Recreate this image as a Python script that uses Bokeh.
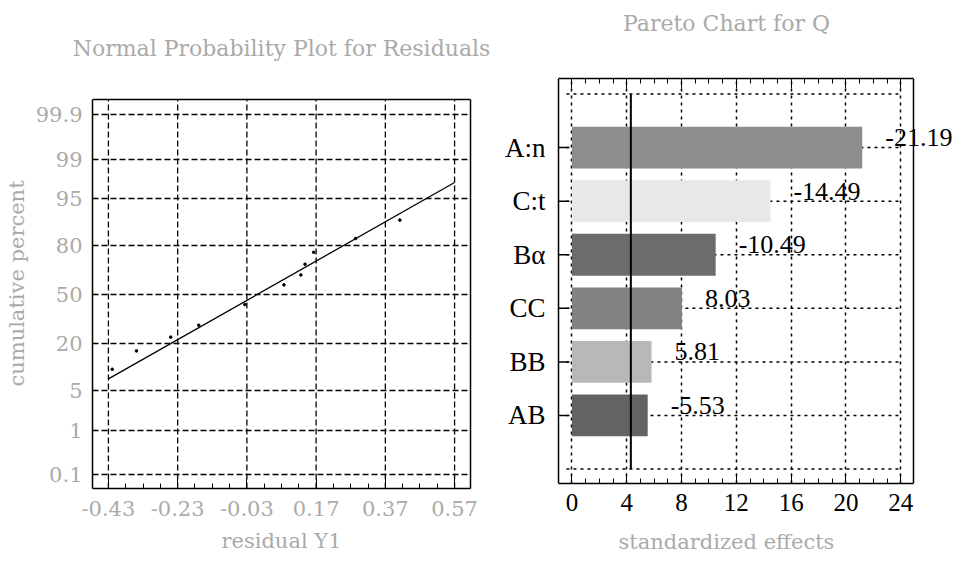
from statistics import NormalDist
from bokeh.plotting import figure
from bokeh.models import FixedTicker, LinearAxis, Range1d, ColumnDataSource, LabelSet, Span
from bokeh.layouts import row
from bokeh.embed import file_html
from bokeh.resources import INLINE

# ---------------- data: normal probability plot ----------------
resid_x = [-0.419, -0.349, -0.250, -0.169, -0.036, 0.077, 0.126, 0.138, 0.163, 0.284, 0.412]
resid_pct = [10.0, 16.7, 23.3, 30.0, 43.3, 56.7, 63.3, 70.0, 76.7, 83.3, 90.0]
fit_x = [-0.43, 0.57]
fit_pct = [7.4, 97.3]
x_ticks = [-0.43, -0.23, -0.03, 0.17, 0.37, 0.57]
pct_ticks = [0.1, 1, 5, 20, 50, 80, 95, 99, 99.9]
pct_labels = ["0.1", "1", "5", "20", "50", "80", "95", "99", "99.9"]

# ---------------- data: pareto chart ----------------
effects = ["A:n", "C:t", "Bα", "CC", "BB", "AB"]
effect_values = [-21.19, -14.49, -10.49, 8.03, 5.81, -5.53]
effect_labels = ["-21.19", "-14.49", "-10.49", "8.03", "5.81", "-5.53"]
bar_colors = ["#8e8e8e", "#e6e8ea", "#6c6c6c", "#828282", "#b6b8ba", "#636363"]
crit_value = 4.3
effect_ticks = [0, 4, 8, 12, 16, 20, 24]

GRAY = "#aaaaaa"
SERIF = "DejaVu Serif"
TIMES = "Liberation Serif"
TOP = 78          # shared top border of both figures
BOTTOM = 84       # shared bottom border of both figures

nd = NormalDist()
def z(p):
    return nd.inv_cdf(p / 100.0)

# ================= left figure =================
z_lo, z_hi = -3.33, 3.354           # framed box of the probability plot
px_per_z = 58.2
box1_h = 389
extra_top = 21                      # frame starts above the box (shared top border)
z_top = z_hi + extra_top / px_per_z

p1 = figure(width=494, height=TOP + box1_h + extra_top + BOTTOM, output_backend="svg", toolbar_location=None,
            x_range=Range1d(-0.476, 0.616), y_range=Range1d(z_lo, z_top),
            min_border_left=92, min_border_right=24, min_border_top=TOP, min_border_bottom=BOTTOM)
p1.outline_line_color = None
p1.xgrid.visible = False

z_ticks = [z(v) for v in pct_ticks]
minor_x = [round(x_ticks[0] + 0.05 * i, 2) for i in range(21)]

p1.xaxis.ticker = FixedTicker(ticks=x_ticks, minor_ticks=minor_x)
p1.xaxis.major_label_overrides = {t: f"{t:.2f}" for t in x_ticks}
p1.yaxis.ticker = FixedTicker(ticks=z_ticks)
p1.yaxis.major_label_overrides = dict(zip(z_ticks, pct_labels))
p1.yaxis.bounds = (z_lo, z_hi)
p1.ygrid.ticker = FixedTicker(ticks=z_ticks)
p1.ygrid.grid_line_color = "black"
p1.ygrid.grid_line_dash = "6 3"
p1.ygrid.grid_line_width = 1.3
p1.ygrid.grid_line_alpha = 1.0

p1.xaxis.major_tick_in = 10
p1.xaxis.major_tick_out = 0
p1.xaxis.minor_tick_in = 5
p1.xaxis.minor_tick_out = 0
p1.xaxis.major_tick_line_color = "black"
p1.xaxis.minor_tick_line_color = "black"
p1.yaxis.major_tick_in = 0
p1.yaxis.major_tick_out = 0
p1.yaxis.minor_tick_line_color = None
for ax in (p1.xaxis, p1.yaxis):
    ax.axis_line_color = "black"
    ax.axis_line_width = 1.5
    ax.major_label_text_font = SERIF
    ax.major_label_text_font_size = "21px"
    ax.major_label_text_color = GRAY
    ax.axis_label_text_font = SERIF
    ax.axis_label_text_font_size = "21px"
    ax.axis_label_text_font_style = "normal"
    ax.axis_label_text_color = GRAY
p1.xaxis.axis_label = "residual Y1"
p1.yaxis.axis_label = "cumulative percent"
p1.xaxis.major_label_standoff = 12
p1.xaxis.axis_label_standoff = 10
p1.yaxis.major_label_standoff = 10
p1.yaxis.axis_label_standoff = 4

# right edge of the box
r1 = LinearAxis(ticker=FixedTicker(ticks=[]), bounds=(z_lo, z_hi), axis_line_color="black",
                axis_line_width=1.5, major_tick_line_color=None, minor_tick_line_color=None)
p1.add_layout(r1, "right")
# top edge of the box
p1.add_layout(Span(location=z_hi, dimension="width", line_color="black", line_width=1.5))

# title drawn as the label of an empty top axis
t1 = LinearAxis(ticker=FixedTicker(ticks=[]), axis_line_color=None,
                major_tick_line_color=None, minor_tick_line_color=None,
                major_label_standoff=0, axis_label="Normal Probability Plot for Residuals",
                axis_label_text_font=SERIF, axis_label_text_font_size="22px",
                axis_label_text_font_style="normal", axis_label_text_color=GRAY,
                axis_label_standoff=18)
p1.add_layout(t1, "above")

# vertical dashed grid lines, limited to the box
p1.segment(x0=x_ticks, y0=[z_lo] * len(x_ticks), x1=x_ticks, y1=[z_hi] * len(x_ticks),
           line_color="black", line_dash="6 3", line_width=1.3)

p1.line(fit_x, [z(v) for v in fit_pct], line_color="black", line_width=1.3)
p1.scatter(resid_x, [z(v) for v in resid_pct], size=2.6, color="black")

# ================= right figure =================
n = len(effects)
pos = [n - i for i in range(n)]
absvals = [abs(v) for v in effect_values]
src = ColumnDataSource(dict(y=pos, right=absvals, color=bar_colors, label=effect_labels))
cat_src = ColumnDataSource(dict(y=pos, name=effects))

box_start, box_end = -0.98, 24.93        # visible framed box of the chart
ppu = 355.0 / (box_end - box_start)      # pixels per effect unit
W2 = 464
left_room, right_room = 64, W2 - 64 - 355   # frame extends past the box on both sides
x_lo = box_start - left_room / ppu
x_hi = box_end + right_room / ppu

p2 = figure(width=W2, height=TOP + 405 + BOTTOM, output_backend="svg", toolbar_location=None,
            x_range=Range1d(x_lo, x_hi), y_range=Range1d(-0.27, n + 1.29),
            min_border_left=0, min_border_right=0, min_border_top=TOP, min_border_bottom=BOTTOM)
p2.outline_line_color = None
p2.ygrid.visible = False
p2.yaxis.visible = False

minor_e = list(range(0, 25))
t2 = LinearAxis(ticker=FixedTicker(ticks=effect_ticks, minor_ticks=minor_e),
                bounds=(box_start, box_end),
                major_label_overrides={t: "" for t in effect_ticks},
                major_label_text_font_size="1px", major_label_standoff=0,
                major_tick_in=10, major_tick_out=0, minor_tick_in=5, minor_tick_out=0,
                axis_line_color="black", axis_line_width=1.5,
                axis_label="Pareto Chart for Q", axis_label_text_font=SERIF,
                axis_label_text_font_size="22px", axis_label_text_font_style="normal",
                axis_label_text_color=GRAY, axis_label_standoff=43)
p2.add_layout(t2, "above")

bx = p2.below[0]
bx.ticker = FixedTicker(ticks=effect_ticks, minor_ticks=minor_e)
bx.bounds = (box_start, box_end)
bx.major_tick_in = 10
bx.major_tick_out = 0
bx.minor_tick_in = 5
bx.minor_tick_out = 0
bx.major_label_text_font = TIMES
bx.major_label_text_font_size = "25px"
bx.major_label_text_color = "black"
bx.major_label_standoff = 10
bx.axis_label = "standardized effects"
bx.axis_label_text_font = SERIF
bx.axis_label_text_font_size = "21px"
bx.axis_label_text_font_style = "normal"
bx.axis_label_text_color = GRAY
bx.axis_label_standoff = 16
bx.axis_line_width = 1.5
bx.axis_line_color = "black"

# left and right edges of the box
p2.add_layout(Span(location=box_start, dimension="height", line_color="black", line_width=1.5))
p2.add_layout(Span(location=box_end, dimension="height", line_color="black", line_width=1.5))

p2.xgrid.ticker = FixedTicker(ticks=effect_ticks)
p2.xgrid.grid_line_color = "black"
p2.xgrid.grid_line_dash = "3 4"
p2.xgrid.grid_line_width = 1.5
p2.xgrid.grid_line_alpha = 1.0

# horizontal dotted guide lines, limited to the tick span like in the original
grid_rows = list(range(0, n + 2))
p2.segment(x0=[-0.4] * len(grid_rows), y0=grid_rows, x1=[effect_ticks[-1]] * len(grid_rows), y1=grid_rows,
           line_color="black", line_dash="3 4", line_width=1.5)

# inward category ticks on the left edge of the box
p2.segment(x0=[box_start] * n, y0=pos, x1=[box_start + 10 / ppu] * n, y1=pos,
           line_color="black", line_width=1.5)

p2.hbar(y="y", left=0, right="right", height=0.78, fill_color="color", line_color=None, source=src)
p2.segment(x0=[crit_value], y0=[grid_rows[0]], x1=[crit_value], y1=[grid_rows[-1]],
           line_color="black", line_width=2)

labels = LabelSet(x="right", y="y", text="label", source=src, x_offset=23, y_offset=10,
                  text_baseline="middle", text_font=TIMES, text_font_size="26px", text_color="black")
p2.add_layout(labels)

cat_labels = LabelSet(x=box_start, y="y", text="name", source=cat_src, x_offset=-13,
                      text_align="right", text_baseline="middle", text_font=TIMES,
                      text_font_size="27px", text_color="black")
p2.add_layout(cat_labels)

layout = row(p1, p2)
open("out.html", "w").write(file_html(layout, INLINE))
